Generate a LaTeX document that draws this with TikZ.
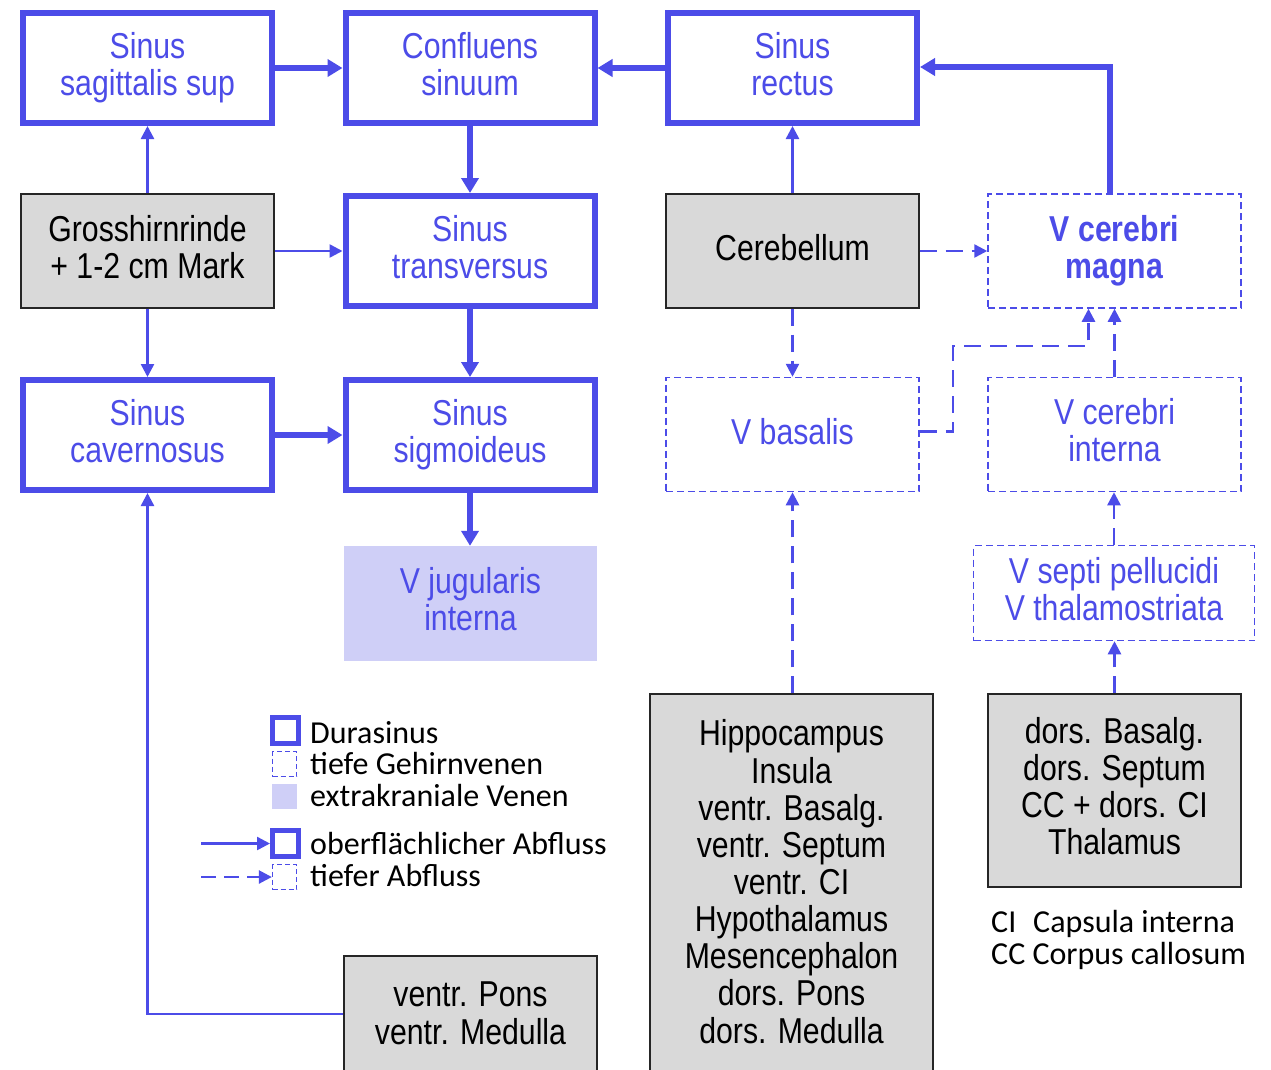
\documentclass[tikz,border=0pt]{standalone}
\usepackage{fontspec}
\setmainfont{Liberation Sans}[FakeStretch=0.84]
\newfontfamily\legfont{Carlito}
\usetikzlibrary{arrows.meta}
\definecolor{myblue}{RGB}{76,76,232}
\definecolor{graybox}{RGB}{217,217,217}
\definecolor{jugfill}{RGB}{207,207,247}
\newcommand\mytopstrut{\rule{0pt}{28pt}}
\newcommand\mybotstrut{\rule[-9pt]{0pt}{9pt}}
\tikzset{
  boxtext/.style={align=center, inner sep=0pt, font=\fontsize{36}{37}\selectfont, execute at begin node=\mytopstrut, execute at end node=\mybotstrut},
  sinus/.style={boxtext, draw=myblue, line width=6pt, minimum width=249pt, minimum height=110pt, text=myblue},
  tissue/.style={boxtext, draw=black!85, fill=graybox, line width=1.3pt, text=black},
  deep/.style={boxtext, draw=myblue, line width=1.5pt, dash pattern=on 7pt off 4pt, text=myblue, minimum width=253pt, minimum height=114pt},
  extra/.style={boxtext, fill=jugfill, text=myblue, minimum width=253pt, minimum height=115pt},
  thickarrow/.style={draw=myblue, line width=5.5pt, -{Triangle[length=15pt,width=17pt]}},
  thinarrow/.style={draw=myblue, line width=2.5pt, -{Triangle[length=13pt,width=13pt]}},
  dasharrow/.style={draw=myblue, line width=2.5pt, dash pattern=on 17pt off 9pt, -{Triangle[length=13pt,width=13pt]}},
  legtext/.style={anchor=base west, inner sep=0pt, font=\legfont\fontsize{32}{34}\selectfont},
  legthick/.style={draw=myblue, line width=5pt, minimum width=26pt, minimum height=26pt, inner sep=0pt},
  legdash/.style={draw=myblue, line width=1.3pt, dash pattern=on 5pt off 3pt, minimum width=24pt, minimum height=25pt, inner sep=0pt},
  legfill/.style={fill=jugfill, minimum width=25pt, minimum height=25pt, inner sep=0pt},
}
\begin{document}
\begin{tikzpicture}[x=1pt,y=-1pt]
\useasboundingbox (0,0) rectangle (1271,1069);
\fill[white] (0,0) rectangle (1271,1069);

% sinus boxes
\node[sinus] (SSS) at (147.5,68) {Sinus\\sagittalis sup};
\node[sinus] (Conf) at (470,68) {Confluens\\sinuum};
\node[sinus] (Rect) at (792.5,68) {Sinus\\rectus};
\node[sinus] (Trans) at (470,251) {Sinus\\transversus};
\node[sinus] (Cav) at (147.5,435) {Sinus\\cavernosus};
\node[sinus] (Sig) at (470,435) {Sinus\\sigmoideus};

% tissue boxes
\node[tissue, minimum width=253pt, minimum height=114pt] (Gross) at (147.5,251) {Grosshirnrinde\\+ 1-2 cm Mark};
\node[tissue, minimum width=253pt, minimum height=114pt] (Cereb) at (792.5,251) {Cerebellum};
\node[tissue, minimum width=283pt, minimum height=386pt] (Hip) at (791.5,887) {\raisebox{6pt}{\begin{tabular}{@{}c@{}}Hippocampus\\Insula\\ventr. Basalg.\\ventr. Septum\\ventr. CI\\Hypothalamus\\Mesencephalon\\dors. Pons\\dors. Medulla\end{tabular}}};
\node[tissue, minimum width=253pt, minimum height=193pt] (Dors) at (1114.5,790.5) {dors. Basalg.\\dors. Septum\\CC + dors. CI\\Thalamus};
\node[tissue, minimum width=253pt, minimum height=124pt] (Pons) at (470.5,1018) {\raisebox{6pt}{\begin{tabular}{@{}c@{}}ventr. Pons\\ventr. Medulla\end{tabular}}};

% deep veins
\node[deep, font=\bfseries\fontsize{36}{37}\selectfont] (Magna) at (1114.5,251) {V cerebri\\magna};
\node[deep] (Basalis) at (792.5,434.5) {V basalis};
\node[deep] (Interna) at (1114.5,434.5) {V cerebri\\interna};
\node[deep, minimum width=281pt, minimum height=95pt] (Septi) at (1114,593) {V septi pellucidi\\V thalamostriata};

% extracranial
\node[extra] (Jug) at (470.5,603.5) {V jugularis\\interna};

% connectors
\draw[thickarrow] (SSS) -- (Conf);
\draw[thickarrow] (Rect) -- (Conf);
\draw[thickarrow] (Conf) -- (Trans);
\draw[thickarrow] (Trans) -- (Sig);
\draw[thickarrow] (Cav) -- (Sig);
\draw[thickarrow] (Sig.south) -- (Sig.south |- Jug.north);
\draw[thickarrow] ([xshift=-4.5pt]Magna.north) |- ([yshift=1pt]Rect.east);
\draw[thinarrow] (Gross) -- (SSS);
\draw[thinarrow] (Gross) -- (Trans);
\draw[thinarrow] (Gross) -- (Cav);
\draw[thinarrow] (Cereb) -- (Rect);
\draw[thinarrow] ([yshift=4pt]Pons.west) -| (Cav.south);
\draw[dasharrow] (Cereb) -- (Magna);
\draw[dasharrow] (Cereb) -- (Basalis);
\draw[dasharrow] ([yshift=3pt]Basalis.east) -| (953,346) -| ([xshift=-26pt]Magna.south);
\draw[dasharrow] (Interna) -- (Magna);
\draw[dasharrow] (Septi.north) -- (Septi.north |- Interna.south);
\draw[dasharrow] (Dors.north) -- (Dors.north |- Septi.south);
\draw[dasharrow] (Hip.north -| Basalis.south) -- (Basalis.south);

% legend
\node[legthick] (L1) at (285.5,730.5) {};
\node[legdash] (L2) at (284.5,764) {};
\node[legfill] (L3) at (284.5,796.5) {};
\node[legthick] (L4) at (285.5,843.5) {};
\node[legdash] (L5) at (284.5,877) {};
\node[legtext] (T1) at (310,743) {Durasinus};
\node[legtext] (T2) at (310,774) {tiefe Gehirnvenen};
\node[legtext] (T3) at (310,806) {extrakraniale Venen};
\node[legtext] (T4) at (310,854) {oberflächlicher Abfluss};
\node[legtext] (T5) at (310,886) {tiefer Abfluss};
\coordinate (A1) at (201,843.5);
\coordinate (A2) at (201,877);
\draw[thinarrow] (A1) -- (L4);
\draw[dasharrow, dash pattern=on 15pt off 8pt] (A2) -- (L5);

\node[legtext] (C1) at (991,932) {CI};
\node[legtext] (C2) at (1033,932) {Capsula interna};
\node[legtext] (C3) at (991,964) {CC Corpus callosum};
\end{tikzpicture}
\end{document}
